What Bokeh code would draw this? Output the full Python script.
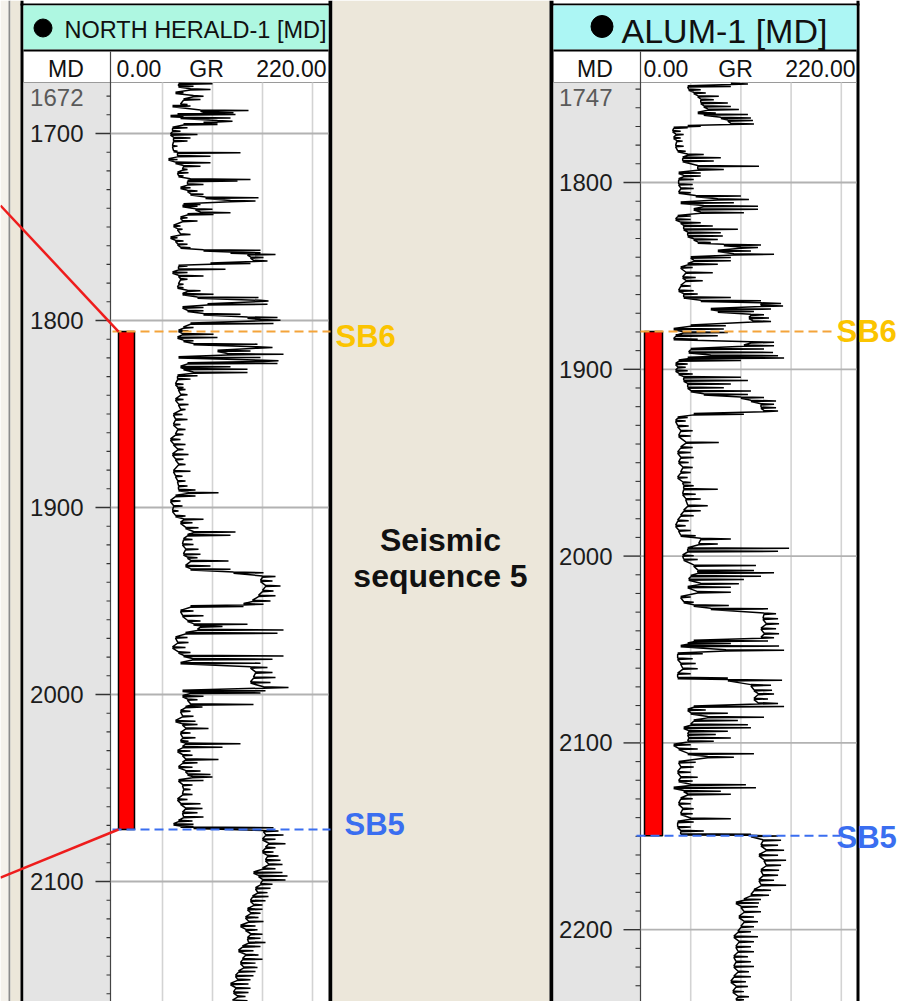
from bokeh.plotting import figure
from bokeh.models import Range1d
from bokeh.core.properties import value
from bokeh.embed import file_html
from bokeh.resources import INLINE

# ---------------------------------------------------------------- data
NH_NAME = "NORTH HERALD-1 [MD]"
AL_NAME = "ALUM-1 [MD]"
HDR_COLS = ["MD", "0.00", "GR", "220.00"]
GR_GRID = [50, 100, 150, 200]

NH_TOP_LABEL = "1672"
NH_MAJOR = [1700, 1800, 1900, 2000, 2100]
NH_MINOR = [1680, 1690, 1710, 1720, 1730, 1740, 1750, 1760, 1770, 1780, 1790,
            1810, 1820, 1830, 1840, 1850, 1860, 1870, 1880, 1890,
            1910, 1920, 1930, 1940, 1950, 1960, 1970, 1980, 1990,
            2010, 2020, 2030, 2040, 2050, 2060, 2070, 2080, 2090,
            2110, 2120, 2130, 2140, 2150, 2160]
AL_TOP_LABEL = "1747"
AL_MAJOR = [1800, 1900, 2000, 2100, 2200]
AL_MINOR = [1750, 1760, 1770, 1780, 1790,
            1810, 1820, 1830, 1840, 1850, 1860, 1870, 1880, 1890,
            1910, 1920, 1930, 1940, 1950, 1960, 1970, 1980, 1990,
            2010, 2020, 2030, 2040, 2050, 2060, 2070, 2080, 2090,
            2110, 2120, 2130, 2140, 2150, 2160, 2170, 2180, 2190,
            2210, 2220, 2230]

NH_SB6, NH_SB5 = 1805.9, 2072.2
AL_SB6, AL_SB5 = 1879.7, 2149.7
NH_CORR_FROM = [1738.5, 2097.9]   # depths where the correlation lines leave the page

# GR log, North Herald-1 : depth (m MD), low and high GR (API) of each swing
NH_DEPTH = [
    1673.1, 1674.4, 1676.1, 1677.9, 1679.7, 1681.5, 1684.2, 1685.0, 1687.4, 1688.6,
    1689.5, 1690.4, 1691.3, 1693.1, 1694.0, 1694.8, 1696.6, 1698.4, 1700.2, 1702.0,
    1703.7, 1706.4, 1709.1, 1710.0, 1711.8, 1713.5, 1715.3, 1717.1, 1718.9, 1720.7,
    1722.4, 1724.2, 1725.1, 1726.9, 1728.7, 1730.4, 1732.2, 1734.0, 1735.8, 1737.6,
    1738.5, 1740.2, 1742.0, 1742.9, 1744.7, 1746.5, 1749.1, 1750.9, 1753.6, 1755.4,
    1757.1, 1758.9, 1760.7, 1762.1, 1763.4, 1764.3, 1766.0, 1767.8, 1769.2, 1770.5,
    1772.3, 1774.0, 1775.8, 1777.6, 1780.3, 1782.1, 1783.8, 1785.6, 1787.4, 1789.2,
    1791.0, 1792.7, 1794.5, 1796.3, 1798.1, 1799.5, 1801.3, 1803.4, 1805.2, 1807.0,
    1808.8, 1810.5, 1812.3, 1814.1, 1815.9, 1817.7, 1819.4, 1821.2, 1822.6, 1824.4,
    1825.7, 1827.5, 1829.2, 1831.0, 1833.7, 1835.5,
    1836.6, 1839.3, 1841.9, 1844.6, 1847.3, 1849.9, 1852.6, 1855.3, 1857.9, 1860.6,
    1863.3, 1865.9, 1868.6, 1871.3, 1873.9, 1876.6, 1880.2, 1882.9, 1885.5, 1888.2,
    1890.3, 1891.8, 1893.5, 1896.2, 1898.9, 1901.5, 1904.2, 1906.0, 1907.8, 1910.5,
    1912.8, 1914.5, 1916.7, 1919.4, 1922.0, 1924.7, 1926.5, 1928.2, 1930.9, 1932.7,
    1934.5, 1936.6, 1938.9, 1941.6, 1944.3, 1946.9, 1949.6, 1951.4, 1952.6, 1955.0,
    1957.6, 1960.3, 1962.1, 1963.3, 1965.1, 1966.9, 1969.2, 1971.9, 1974.5, 1977.2,
    1979.0, 1980.8, 1982.9, 1985.2, 1987.9, 1990.6, 1993.2, 1995.9, 1997.7,
    1998.8, 2000.6, 2002.4, 2005.0, 2006.4, 2008.6, 2011.3, 2013.9, 2015.7, 2017.8,
    2020.2, 2022.8, 2024.6, 2026.0, 2027.8, 2029.9, 2032.1, 2034.4, 2036.2, 2038.5,
    2040.6, 2042.4, 2043.8, 2045.6, 2048.1, 2050.4, 2053.1, 2055.8, 2058.1, 2060.6,
    2062.9, 2065.2, 2067.3, 2069.1, 2070.3, 2070.9, 2072.7, 2074.8, 2077.1, 2079.4,
    2081.6, 2083.9, 2086.0, 2088.3, 2090.5, 2092.8, 2094.9, 2096.7, 2098.8, 2101.1,
    2103.3, 2105.6, 2107.7, 2110.0, 2112.2, 2114.5, 2116.6, 2118.9, 2121.1, 2123.4,
    2125.5, 2127.8, 2130.0, 2132.3, 2134.4, 2136.7, 2138.9, 2141.2, 2143.3, 2145.6,
    2147.8, 2150.1, 2152.2, 2154.5, 2156.7, 2159.0, 2161.1, 2163.4]
NH_GR_LO = [
    66, 66, 78, 63, 81, 71, 68, 60, 88, 91,
    65, 58, 68, 105, 91, 71, 60, 60, 58, 61,
    61, 60, 61, 65, 65, 56, 63, 71, 70, 65,
    66, 78, 75, 75, 68, 75, 78, 93, 118, 71,
    70, 83, 88, 75, 68, 70, 61, 65, 68, 58,
    63, 65, 68, 91, 118, 135, 138, 141, 98, 66,
    66, 60, 66, 68, 66, 65, 75, 70, 85, 148,
    95, 70, 75, 91, 135, 148, 78, 71, 66, 70,
    65, 71, 81, 145, 105, 115, 66, 151, 75, 68,
    71, 81, 65, 65, 63, 65,
    66, 68, 63, 66, 68, 61, 63, 61, 65, 63,
    58, 61, 65, 60, 63, 66, 61, 63, 65, 66,
    66, 76, 63, 58, 61, 60, 63, 71, 68, 73,
    81, 75, 71, 70, 73, 71, 75, 78, 73, 78,
    121, 150, 148, 153, 150, 146, 140, 131, 78, 68,
    70, 75, 81, 88, 85, 73, 63, 65, 60, 66,
    71, 80, 68, 138, 143, 141, 138, 151, 70,
    78, 70, 75, 78, 73, 68, 70, 63, 70, 73,
    68, 70, 68, 73, 70, 65, 70, 73, 70, 66,
    73, 75, 80, 66, 70, 71, 70, 65, 68, 73,
    70, 71, 66, 61, 68, 81, 151, 153, 150, 156,
    153, 150, 155, 153, 156, 150, 141, 146, 150, 148,
    143, 145, 140, 138, 141, 135, 138, 133, 136, 128,
    133, 138, 135, 136, 130, 126, 133, 130, 128, 131,
    126, 123, 125, 118, 123, 121, 125, 120]
NH_GR_HI = [
    100, 81, 98, 71, 91, 88, 75, 78, 136, 121,
    123, 71, 118, 120, 105, 105, 75, 68, 85, 78,
    75, 65, 65, 128, 98, 65, 98, 88, 75, 76,
    71, 138, 125, 91, 78, 85, 91, 146, 143, 88,
    85, 100, 118, 101, 75, 85, 68, 70, 78, 65,
    71, 75, 78, 148, 148, 163, 151, 155, 138, 75,
    113, 75, 91, 75, 71, 71, 88, 101, 146, 156,
    155, 91, 91, 128, 165, 168, 161, 81, 76, 101,
    105, 81, 145, 160, 138, 171, 148, 166, 165, 118,
    135, 135, 85, 78, 71, 71,
    73, 75, 71, 76, 73, 70, 75, 68, 73, 71,
    68, 73, 71, 76, 71, 73, 78, 70, 73, 75,
    83, 106, 83, 68, 70, 66, 73, 91, 80, 86,
    123, 118, 80, 81, 86, 88, 85, 116, 98, 118,
    151, 163, 160, 168, 161, 163, 158, 151, 131, 81,
    91, 88, 135, 110, 171, 165, 75, 76, 73, 78,
    171, 160, 148, 155, 160, 163, 158, 176, 153,
    148, 91, 85, 141, 90, 78, 81, 83, 85, 96,
    78, 83, 76, 128, 110, 78, 80, 106, 85, 80,
    88, 98, 100, 91, 80, 78, 80, 75, 88, 90,
    85, 91, 80, 81, 81, 161, 166, 171, 163, 173,
    163, 161, 166, 168, 170, 163, 170, 175, 173, 160,
    158, 155, 156, 153, 150, 150, 148, 146, 151, 143,
    145, 150, 148, 153, 148, 141, 146, 150, 143, 145,
    143, 141, 138, 136, 138, 136, 133, 135]

# GR log, Alum-1
AL_DEPTH = [
    1746.9, 1748.2, 1750.0, 1751.7, 1753.5, 1755.3, 1757.1, 1758.9, 1760.6, 1762.4,
    1763.3, 1765.1, 1766.5, 1768.3, 1769.5, 1770.4, 1772.2, 1774.0, 1775.8, 1777.5,
    1780.2, 1782.9, 1784.7, 1786.4, 1788.2, 1790.9, 1792.7, 1794.5, 1796.2, 1798.0,
    1800.7, 1802.8, 1805.1, 1806.9, 1808.7, 1810.5, 1812.3, 1814.0, 1815.8, 1817.6,
    1819.4, 1821.2, 1822.9, 1824.7, 1826.5, 1828.3, 1830.1, 1831.8, 1833.1, 1834.5,
    1836.3, 1838.1, 1839.8, 1841.6, 1843.4, 1845.2, 1847.9, 1850.5, 1852.3, 1855.0,
    1857.6, 1859.4, 1861.2, 1863.0, 1864.4, 1865.7, 1867.4, 1868.7, 1870.5, 1872.2,
    1874.0, 1876.3, 1878.1, 1879.9, 1881.7, 1883.5, 1885.2, 1887.0, 1888.8, 1890.6,
    1892.4, 1893.6, 1895.0, 1896.8, 1898.6, 1900.4, 1902.1, 1903.9, 1905.7, 1907.5,
    1909.5, 1911.3, 1913.1, 1914.8, 1916.6, 1918.4, 1920.2, 1922.0, 1923.7, 1925.5,
    1927.3, 1930.0, 1932.6, 1935.3, 1938.9, 1941.5, 1944.2, 1946.9, 1949.5, 1952.2,
    1954.9, 1957.6, 1960.2, 1962.0, 1963.8, 1966.5, 1969.1, 1972.7, 1975.4, 1978.0,
    1980.7, 1983.4, 1986.0, 1988.7, 1990.5, 1993.2, 1995.5, 1997.1, 1999.4, 2001.5,
    2004.7, 2007.4, 2008.6, 2010.4, 2012.2, 2014.5, 2016.3, 2019.0, 2021.6, 2024.3,
    2026.1, 2027.9, 2030.5, 2033.2, 2035.9, 2038.5, 2041.2, 2043.3, 2045.1, 2046.5,
    2047.8, 2050.1, 2051.9, 2054.6, 2057.2, 2059.9, 2062.6, 2064.9, 2066.1, 2068.8,
    2071.5,
    2073.5, 2076.1, 2078.5, 2080.2, 2082.0, 2083.8, 2085.9, 2087.7, 2089.9, 2091.6,
    2093.4, 2095.2, 2097.0, 2098.8, 2100.7, 2102.9, 2105.5, 2107.3, 2110.0, 2112.6,
    2115.3, 2118.0, 2120.1, 2122.1, 2123.7, 2125.5, 2127.2, 2129.5, 2132.2, 2134.9,
    2137.6, 2140.2, 2142.0, 2144.7, 2146.8, 2148.6, 2149.5, 2151.8, 2154.5, 2157.1,
    2159.8, 2162.5, 2165.2, 2167.8, 2170.5, 2173.2, 2175.8, 2178.5, 2181.2, 2183.5,
    2185.3, 2187.4, 2190.1, 2192.8, 2195.4, 2198.1, 2200.8, 2203.4, 2206.1, 2208.8,
    2211.4, 2214.1, 2216.8, 2219.4, 2222.1, 2224.8, 2227.5, 2230.1, 2232.8, 2235.5,
    2237.2]
AL_GR_LO = [
    90, 47, 48, 53, 57, 60, 60, 63, 67, 57,
    63, 80, 87, 90, 47, 33, 32, 35, 33, 36,
    35, 37, 47, 42, 42, 57, 57, 38, 43, 38,
    38, 40, 38, 55, 77, 40, 63, 53, 60, 37,
    35, 40, 43, 43, 47, 47, 53, 57, 83, 100,
    77, 93, 50, 53, 47, 40, 45, 42, 45, 40,
    38, 43, 43, 60, 120, 120, 70, 77, 110, 108,
    112, 50, 33, 43, 35, 33, 110, 103, 50, 48,
    70, 47, 38, 35, 37, 35, 38, 43, 43, 47,
    47, 50, 63, 100, 110, 120, 120, 123, 53, 37,
    35, 37, 40, 38, 45, 40, 37, 40, 38, 42,
    40, 37, 42, 43, 43, 42, 45, 47, 43, 40,
    37, 35, 38, 40, 60, 58, 47, 47, 42, 43,
    53, 57, 57, 50, 48, 60, 47, 57, 40, 43,
    53, 70, 123, 122, 125, 120, 123, 120, 53, 47,
    40, 85, 37, 37, 40, 42, 37, 37, 87, 110,
    113,
    117, 113, 117, 53, 47, 50, 67, 53, 50, 43,
    48, 47, 48, 47, 33, 38, 47, 67, 38, 40,
    37, 40, 38, 50, 33, 43, 47, 40, 38, 42,
    40, 50, 37, 37, 40, 40, 110, 122, 120, 125,
    118, 123, 125, 120, 122, 118, 120, 113, 110, 103,
    95, 100, 103, 98, 103, 100, 97, 93, 98, 95,
    97, 93, 95, 93, 97, 93, 90, 95, 92, 97,
    95]
AL_GR_HI = [
    107, 90, 60, 65, 78, 73, 87, 90, 98, 75,
    107, 110, 112, 113, 60, 47, 40, 43, 40, 42,
    43, 45, 63, 80, 73, 118, 83, 60, 60, 53,
    52, 53, 50, 100, 108, 93, 117, 117, 103, 50,
    50, 60, 72, 97, 80, 82, 77, 70, 120, 117,
    110, 133, 90, 90, 77, 52, 72, 55, 62, 50,
    53, 57, 90, 120, 140, 142, 130, 113, 123, 128,
    130, 85, 83, 87, 77, 57, 133, 133, 123, 132,
    137, 143, 100, 47, 45, 47, 52, 100, 107, 90,
    83, 110, 107, 123, 135, 133, 135, 137, 103, 47,
    45, 48, 52, 50, 78, 52, 50, 53, 48, 52,
    50, 47, 50, 53, 77, 55, 60, 67, 60, 53,
    48, 45, 50, 55, 90, 77, 148, 137, 53, 57,
    115, 113, 133, 120, 103, 98, 90, 90, 50, 53,
    88, 127, 135, 137, 138, 135, 138, 133, 127, 90,
    138, 143, 62, 52, 55, 57, 50, 87, 141, 130,
    131,
    133, 127, 137, 143, 65, 87, 123, 97, 107, 110,
    87, 75, 90, 73, 50, 57, 113, 93, 55, 53,
    50, 57, 52, 105, 115, 80, 90, 52, 50, 53,
    52, 90, 53, 50, 63, 110, 137, 140, 137, 143,
    137, 145, 140, 138, 137, 133, 145, 130, 128, 120,
    118, 117, 120, 113, 117, 113, 110, 117, 113, 110,
    113, 107, 110, 113, 108, 110, 105, 107, 103, 108,
    103]

# ---------------------------------------------------------------- layout (page pixels)
W, H = 901, 1001
FONT = value("Liberation Sans")
BEIGE = "#ece7da"
GRAYTRACK = "#e4e4e4"
HDR_L = "#aef7e1"
HDR_R = "#acf6f4"
ORANGE_LINE = "#f4a43a"
GOLD_TEXT = "#fbc400"
BLUE = "#3a6ef0"
RED = "#ee1c1c"

p = figure(width=W, height=H, x_range=Range1d(0, W), y_range=Range1d(H, 0),
           x_axis_type=None, y_axis_type=None, toolbar_location=None,
           output_backend="svg", min_border=0, outline_line_color=None,
           background_fill_color="white", border_fill_color="white")


def gr_range(x0_px, ppu):
    s = -x0_px / ppu
    return Range1d(s, s + W / ppu)


def depth_range(ref_depth, ref_px, ppm):
    top = ref_depth - ref_px / ppm
    return Range1d(start=top + H / ppm, end=top)


p.extra_x_ranges = {"grL": gr_range(112, 1.0), "grR": gr_range(640, 1.004)}
p.extra_y_ranges = {"dL": depth_range(1700, 133, 1.87), "dR": depth_range(1800, 182, 1.868)}


def box(l, r, t, b, color):
    p.quad(left=[l], right=[r], top=[t], bottom=[b], fill_color=color, line_color=None)


# ---------------------------------------------------------------- backgrounds
box(0, 8, 0, H, "#f5f2ec")
box(8, 10, 0, H, "#8c8c8c")
box(10, 20, 0, H, BEIGE)
box(20, 23, 0, H, "black")
box(23, 110, 82, H, GRAYTRACK)
box(328, 332, 0, H, "black")
box(332, 549, 0, H, BEIGE)
box(549, 553, 0, H, "black")
box(553, 640, 82, H, GRAYTRACK)
box(856, 859, 0, H, "black")

for (l, r, col) in [(23, 328, HDR_L), (553, 856, HDR_R)]:
    box(l - 3, r + 3, 3, 5, "black")
    box(l, r, 5, 49, col)
    box(l, r, 49, 51, "black")
    p.segment(x0=[l], x1=[r], y0=[82], y1=[82], line_color="#9a9a9a", line_width=1)

p.segment(x0=[110, 640], x1=[110, 640], y0=[51, 51], y1=[H, H], line_color="#444444", line_width=1.2)

# header texts
p.scatter(x=[42.5], y=[27.5], size=18, marker="circle", fill_color="black", line_color="black")
p.text(x=[64], y=[29], text=[NH_NAME], text_font=FONT, text_font_size="23.5px",
       text_baseline="middle", text_align="left", text_color="#111111")
p.scatter(x=[601.5], y=[26], size=22, marker="circle", fill_color="black", line_color="black")
p.text(x=[621], y=[30], text=[AL_NAME], text_font=FONT, text_font_size="34px",
       text_baseline="middle", text_align="left", text_color="#111111")

for xs in ([65.5, 116, 206, 326], [594.5, 643, 735, 855]):
    for x, t, a in zip(xs, HDR_COLS, ["center", "left", "center", "right"]):
        p.text(x=[x], y=[68], text=[t], text_font=FONT, text_font_size="23px",
               text_baseline="middle", text_align=a, text_color="#111111")


# ---------------------------------------------------------------- grids, ticks, labels
def well_scale(yr, xr, major, minor, top_label, tick_x1, major_x0, minor_x0,
               label_x, grid_x1):
    p.segment(x0=GR_GRID, x1=GR_GRID, y0=[82] * 4, y1=[H] * 4, x_range_name=xr,
              line_color="#d3d3d3", line_width=1.6)
    n = len(major)
    p.segment(x0=[tick_x1] * n, x1=[grid_x1] * n, y0=major, y1=major, y_range_name=yr,
              line_color="#b2b2b2", line_width=1.8)
    p.segment(x0=[major_x0] * n, x1=[tick_x1] * n, y0=major, y1=major, y_range_name=yr,
              line_color="#333333", line_width=1.4)
    m = len(minor)
    p.segment(x0=[minor_x0] * m, x1=[tick_x1] * m, y0=minor, y1=minor, y_range_name=yr,
              line_color="#333333", line_width=1.1)
    p.text(x=[label_x] * n, y=major, text=[str(v) for v in major], y_range_name=yr,
           text_font=FONT, text_font_size="24px", text_align="right",
           text_baseline="middle", text_color="#1c1c1c")
    p.text(x=[label_x], y=[97], text=[top_label], text_font=FONT, text_font_size="24px",
           text_align="right", text_baseline="middle", text_color="#5a5a5a")


well_scale("dL", "grL", NH_MAJOR, NH_MINOR, NH_TOP_LABEL, 110, 95, 106, 83, 328)
well_scale("dR", "grR", AL_MAJOR, AL_MINOR, AL_TOP_LABEL, 640, 623, 635, 612, 856)


# ---------------------------------------------------------------- GR curves
def trace(dep, lo, hi):
    xs, ys = [], []
    for d, a, b in zip(dep, lo, hi):
        xs += [a, b, a]
        ys += [d, d + 0.35, d + 0.7]
    return xs, ys


x, y = trace(NH_DEPTH, NH_GR_LO, NH_GR_HI)
p.line(x=x, y=y, x_range_name="grL", y_range_name="dL", line_color="black", line_width=1.5)
x, y = trace(AL_DEPTH, AL_GR_LO, AL_GR_HI)
p.line(x=x, y=y, x_range_name="grR", y_range_name="dR", line_color="black", line_width=1.5)

# ---------------------------------------------------------------- sequence bars and boundaries
p.quad(left=[118], right=[134], top=[NH_SB6], bottom=[NH_SB5], y_range_name="dL",
       fill_color="#ff0000", line_color="black", line_width=1.5)
p.quad(left=[644], right=[662], top=[AL_SB6], bottom=[AL_SB5], y_range_name="dR",
       fill_color="#ff0000", line_color="black", line_width=1.5)

p.segment(x0=[112, 112], x1=[330, 330], y0=[NH_SB6, NH_SB5], y1=[NH_SB6, NH_SB5],
          y_range_name="dL", line_color=[ORANGE_LINE, BLUE], line_width=2, line_dash="9 5")
p.segment(x0=[640, 636], x1=[836, 840], y0=[AL_SB6, AL_SB5], y1=[AL_SB6, AL_SB5],
          y_range_name="dR", line_color=[ORANGE_LINE, BLUE], line_width=2, line_dash="9 5")

BOLD = dict(text_font=FONT, text_font_size="31px", text_font_style="bold",
            text_baseline="middle", text_align="left")
p.text(x=[335], y=[NH_SB6], y_offset=[5], text=["SB6"], y_range_name="dL",
       text_color=GOLD_TEXT, **BOLD)
p.text(x=[344], y=[NH_SB5], y_offset=[-5], text=["SB5"], y_range_name="dL",
       text_color=BLUE, **BOLD)
p.text(x=[836], y=[AL_SB6], text=["SB6"], y_range_name="dR", text_color=GOLD_TEXT, **BOLD)
p.text(x=[836], y=[AL_SB5], y_offset=[2], text=["SB5"], y_range_name="dR",
       text_color=BLUE, **BOLD)

# correlation lines running off the left edge
p.line(x=[0, 118], y=[NH_CORR_FROM[0], NH_SB6], y_range_name="dL", line_color=RED, line_width=2.5)
p.line(x=[0, 118], y=[NH_CORR_FROM[1], NH_SB5], y_range_name="dL", line_color=RED, line_width=2.5)

# ---------------------------------------------------------------- central label
p.text(x=[440, 440], y=[539, 575], text=["Seismic", "sequence 5"], text_font=FONT,
       text_font_size="32px", text_font_style="bold", text_align="center",
       text_baseline="middle", text_color="#111111")

open("out.html", "w").write(file_html(p, INLINE))
